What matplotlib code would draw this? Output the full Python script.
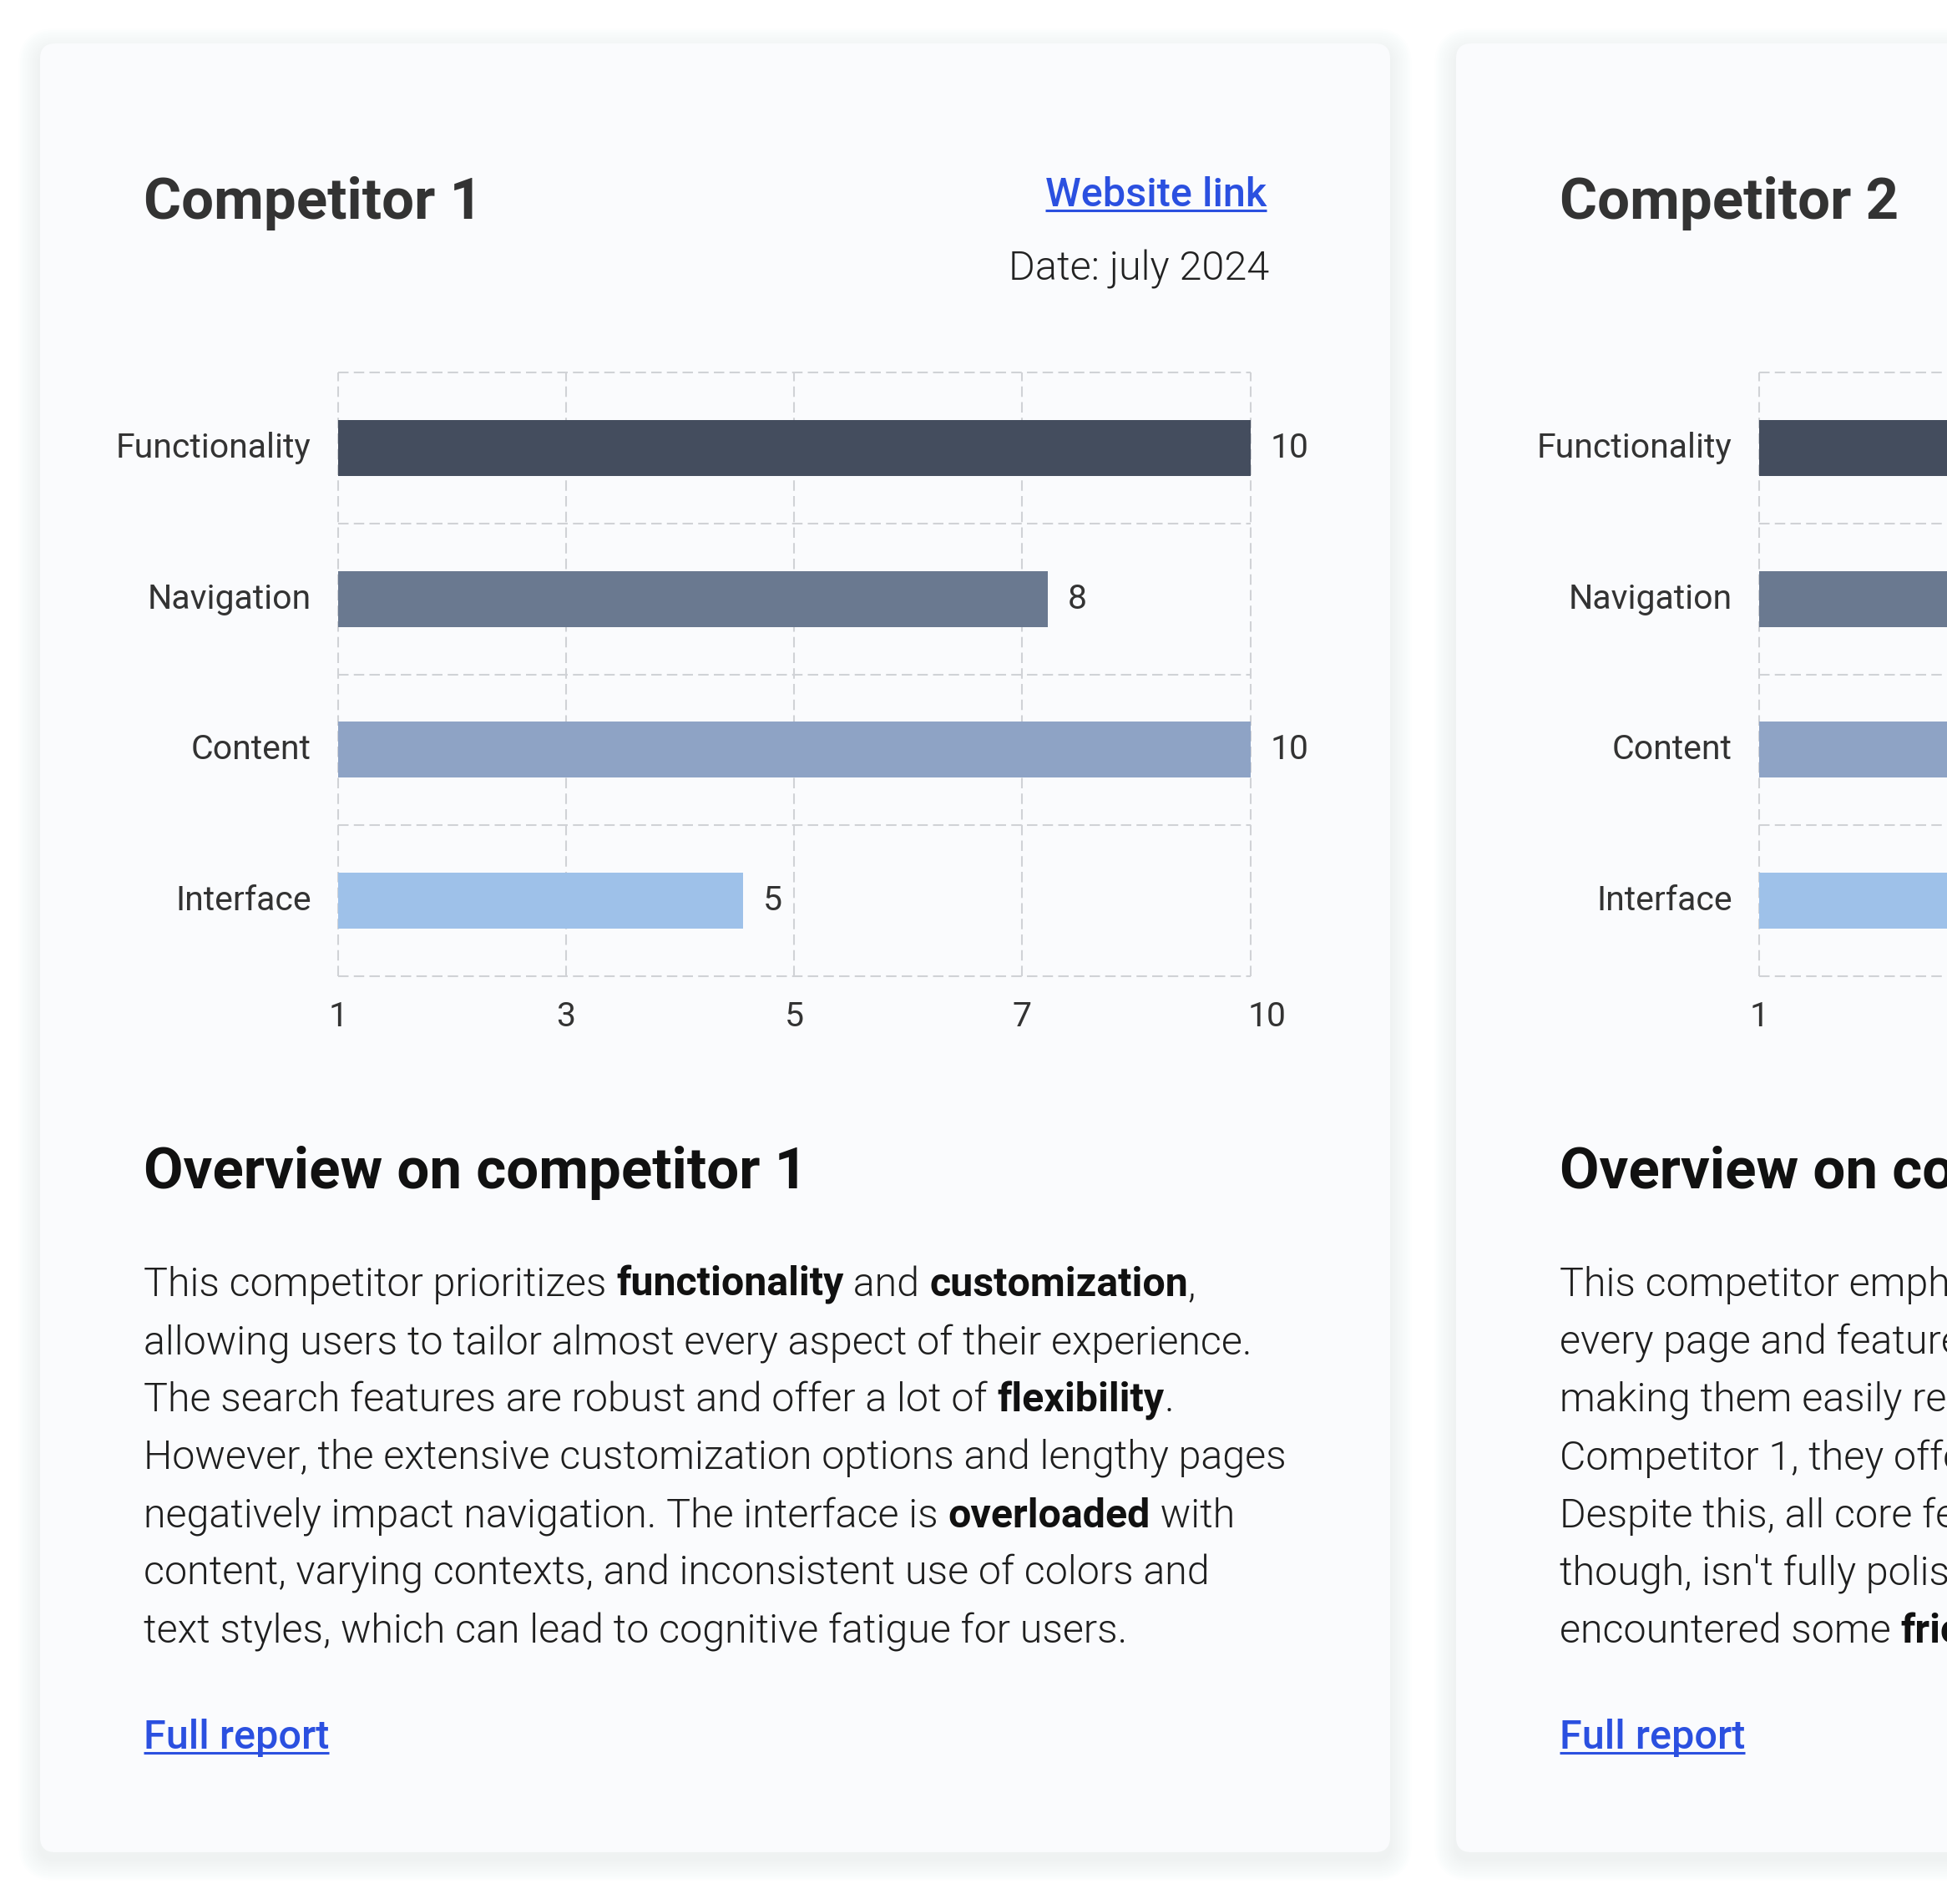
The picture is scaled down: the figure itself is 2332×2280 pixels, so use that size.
import matplotlib
matplotlib.use('Agg')
import matplotlib.pyplot as plt
from matplotlib.patches import FancyBboxPatch
from matplotlib.transforms import ScaledTranslation

# data
categories = ['Functionality', 'Navigation', 'Content', 'Interface']
scores_c1 = [10, 8, 10, 5]
scores_c2 = [9, 8, 9, 7]   # cut off by the frame on the right
bar_colors = ['#444d5e', '#6a7990', '#8ea3c5', '#9ec1e9']
tick_values = [1, 3.25, 5.5, 7.75, 10]
tick_labels = ['1', '3', '5', '7', '10']

titles = ['Competitor 1', 'Competitor 2']
headings = ['Overview on competitor 1', 'Overview on competitor 2']
date_text = 'Date: july 2024'

# each line is a list of (text, bold)
body_c1 = [
    [('This competitor prioritizes ', False), ('functionality', True), (' and ', False),
     ('customization', True), (',', False)],
    [('allowing users to tailor almost every aspect of their experience.', False)],
    [('The search features are robust and offer a lot of ', False), ('flexibility', True), ('.', False)],
    [('However, the extensive customization options and lengthy pages', False)],
    [('negatively impact navigation. The interface is ', False), ('overloaded', True), (' with', False)],
    [('content, varying contexts, and inconsistent use of colors and', False)],
    [('text styles, which can lead to cognitive fatigue for users.', False)],
]
body_c2 = [
    [('This competitor emphasizes a clear structure, presenting', False)],
    [('every page and feature in a consistent, predictable way,', False)],
    [('making them easily recognizable. Compared to', False)],
    [('Competitor 1, they offer fewer customization options.', False)],
    [('Despite this, all core features are covered. The interface,', False)],
    [("though, isn't fully polished, and during testing we", False)],
    [('encountered some ', False), ('friction', True), (' in key flows.', False)],
]

W, H, DPI = 2332, 2280, 100
CARD_DX = 1696
CHART_DX = 1702
TEXT_DARK = '#333333'
LINK = '#2b50e0'

plt.rcParams['font.family'] = ['Roboto', 'DejaVu Sans']

fig = plt.figure(figsize=(W / DPI, H / DPI), dpi=DPI, facecolor='white')
bg = fig.add_axes([0, 0, 1, 1], zorder=0)
bg.set_xlim(0, W)
bg.set_ylim(H, 0)
bg.axis('off')
renderer = fig.canvas.get_renderer()


def width_of(s, **kw):
    t = bg.text(0, 0, '|' + s + '|', **kw)
    w = t.get_window_extent(renderer).width
    t.remove()
    t = bg.text(0, 0, '||', **kw)
    w -= t.get_window_extent(renderer).width
    t.remove()
    return w


def rich_line(x, y, parts, size, color):
    for s, bold in parts:
        kw = dict(fontsize=size, fontweight='bold' if bold else 300,
                  color='#111111' if bold else color)
        bg.text(x, y, s, va='baseline', ha='left', **kw)
        x += width_of(s, **kw)


def link(x, y, s, size, ha='left'):
    bg.text(x, y, s, fontsize=size, fontweight='medium', color=LINK,
            ha=ha, va='baseline')
    w = width_of(s, fontsize=size, fontweight='medium')
    x0 = x - w if ha == 'right' else x
    bg.plot([x0, x0 + w], [y + 5, y + 5], color=LINK, lw=2.2, solid_capstyle='butt')


def card(x0, y0, w, h):
    for i in range(1, 14):
        bg.add_patch(FancyBboxPatch((x0 - 2 * i, y0 - 2 * i + 8), w + 4 * i, h + 4 * i,
                                    boxstyle='round,pad=0,rounding_size=%d' % (18 + 2 * i),
                                    fc='#7a88a8', ec='none', alpha=0.007))
    bg.add_patch(FancyBboxPatch((x0, y0), w, h, boxstyle='round,pad=0,rounding_size=18',
                                fc='#fafbfd', ec='none'))


def chart(left_px, scores):
    ax = fig.add_axes([left_px / W, 1 - 1169 / H, 1093 / W, 723 / H], zorder=2)
    ax.set_facecolor('none')
    y = list(range(len(categories)))
    ax.barh(y, scores, height=0.37, color=bar_colors, zorder=3)
    ax.set_xlim(1, 10)
    ax.set_ylim(len(categories) - 0.5, -0.5)
    for v in tick_values:
        ln = ax.axvline(v, color='#d0d2d6', lw=1.5, zorder=1, clip_on=False)
        ln.set_dashes((6, 3))
    for b in [i - 0.5 for i in range(len(categories) + 1)]:
        ln = ax.axhline(b, color='#d0d2d6', lw=1.5, zorder=1, clip_on=False)
        ln.set_dashes((6, 3))
    for i, v in enumerate(scores):
        ax.annotate(str(v), (v, i), xytext=(17, 0), textcoords='offset points',
                    va='center', ha='left', fontsize=29.5, color=TEXT_DARK,
                    annotation_clip=False)
    ax.set_yticks(y, categories)
    ax.set_xticks(tick_values, tick_labels)
    ax.tick_params(axis='both', length=0, labelsize=29.5, labelcolor=TEXT_DARK)
    ax.tick_params(axis='y', pad=23)
    ax.tick_params(axis='x', pad=21)
    for lab in ax.get_yticklabels():
        lab.set_verticalalignment('center')
    lab = ax.get_xticklabels()[-1]
    lab.set_transform(lab.get_transform() + ScaledTranslation(0.2, 0, fig.dpi_scale_trans))
    for s in ax.spines.values():
        s.set_visible(False)
    return ax


for k, (title, heading, body, scores) in enumerate(
        zip(titles, headings, [body_c1, body_c2], [scores_c1, scores_c2])):
    dx = k * CARD_DX
    card(48 + dx, 52, 1617, 2166)
    bg.text(172 + dx, 262, title, fontsize=49.7, fontweight='bold', color=TEXT_DARK,
            va='baseline', ha='left')
    if k == 0:
        link(1517 + dx, 247, 'Website link', 35, ha='right')
        bg.text(1520 + dx, 336, date_text, fontsize=35, fontweight=300, color='#222222',
                va='baseline', ha='right')
    chart(404.6 + k * CHART_DX, scores)
    bg.text(172 + dx, 1423, heading, fontsize=49.7, fontweight='bold', color='#111111',
            va='baseline', ha='left')
    for i, parts in enumerate(body):
        rich_line(172 + dx, 1552 + 69.2 * i, parts, 34.8, '#1e1e1e')
    link(172 + dx, 2094, 'Full report', 35)

fig.savefig('out.png', dpi=DPI, facecolor='white')
